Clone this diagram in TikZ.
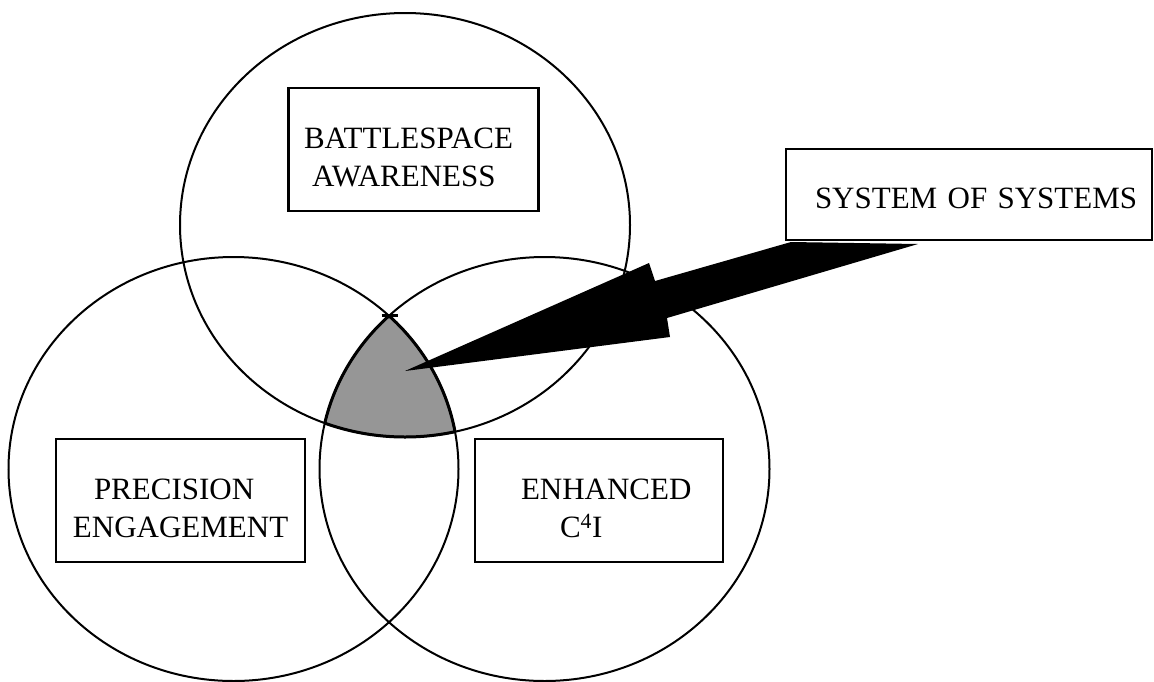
\documentclass[tikz,border=0pt]{standalone}
\usepackage{fontspec}
\setmainfont{Liberation Serif}
\definecolor{regiongray}{RGB}{150,150,150}
\begin{document}
\begin{tikzpicture}[x=1pt,y=-1pt,
  ring/.style={line width=2pt},
  outline/.style={line width=3pt},
  labelbox/.style={draw, line width=2.4pt, fill=white, inner sep=0pt, align=left,
    font=\fontsize{31}{38}\selectfont},
]
\useasboundingbox (0,0) rectangle (1154,681);
% circle centres
\coordinate (ctop) at (405,225);
\coordinate (cleft) at (233.5,469);
\coordinate (cright) at (544.5,469);
\tikzset{ell/.style={x radius=225, y radius=212}}
% shaded common region
\begin{scope}
  \clip (ctop) ellipse [ell];
  \clip (cleft) ellipse [ell];
  \fill[regiongray] (cright) ellipse [ell];
\end{scope}
\begin{scope}
  \clip (cleft) ellipse [ell];
  \clip (cright) ellipse [ell];
  \draw[outline] (ctop) ellipse [ell];
\end{scope}
\begin{scope}
  \clip (ctop) ellipse [ell];
  \clip (cright) ellipse [ell];
  \draw[outline] (cleft) ellipse [ell];
\end{scope}
\begin{scope}
  \clip (ctop) ellipse [ell];
  \clip (cleft) ellipse [ell];
  \draw[outline] (cright) ellipse [ell];
\end{scope}
% circles
\draw[ring] (ctop) ellipse [ell];
\draw[ring] (cleft) ellipse [ell];
\draw[ring] (cright) ellipse [ell];
% small tick at the top of the region
\coordinate (apex) at (389.5,315.5);
\draw[line width=2.5pt] ([xshift=-8pt]apex) -- ([xshift=8pt]apex);
% boxes
\node[labelbox, text width=250pt, minimum height=123pt] (bsa) at (413.5,149.5)
  {\hspace*{15.5pt}\rule{0pt}{37pt}BATTLESPACE\\\hspace*{23.5pt}AWARENESS};
\node[labelbox, text width=249pt, minimum height=123pt] (pe) at (180.5,500.5)
  {\hspace*{38pt}\rule{0pt}{36pt}PRECISION\\\hspace*{17pt}ENGAGEMENT};
\node[labelbox, text width=248pt, minimum height=123pt] (ec) at (599,500.5)
  {\hspace*{46pt}\rule{0pt}{36pt}ENHANCED\\\hspace*{85pt}C\textsuperscript{4}I};
\node[labelbox, text width=366pt, minimum height=91pt] (sos) at (969,194.5)
  {\hspace*{29pt}\rule{0pt}{29pt}SYSTEM OF SYSTEMS};
% block arrow from the box to the common region
\coordinate (tip) at (405,371);
\fill (tip) -- (649,263) -- (655,281) -- (791,242) -- (918,244) -- (667,318) -- (670,337) -- cycle;
\end{tikzpicture}
\end{document}
